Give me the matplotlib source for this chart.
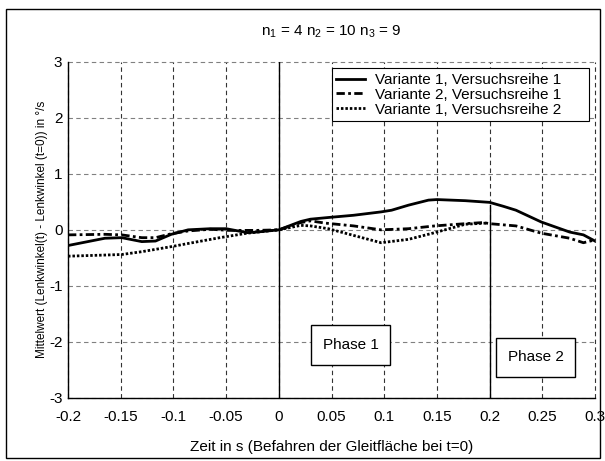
import matplotlib
matplotlib.use("Agg")
import matplotlib.pyplot as plt
from matplotlib.patches import Rectangle

plt.rcParams['font.family'] = ['Liberation Sans', 'DejaVu Sans']
plt.rcParams['mathtext.fontset'] = 'custom'
plt.rcParams['mathtext.rm'] = 'Liberation Sans'
plt.rcParams['mathtext.it'] = 'Liberation Sans'

# Variante 1, Versuchsreihe 1
t1 = [-0.200, -0.165, -0.149, -0.130, -0.117, -0.102, -0.086, -0.065, -0.050, -0.030, -0.021, 0.000,
      0.021, 0.030, 0.047, 0.071, 0.097, 0.107, 0.123, 0.142, 0.150, 0.177, 0.200, 0.213, 0.225,
      0.249, 0.267, 0.276, 0.289, 0.300]
v1 = [-0.28, -0.15, -0.14, -0.21, -0.20, -0.08, 0.00, 0.02, 0.02, -0.05, -0.04, 0.00,
      0.15, 0.19, 0.22, 0.26, 0.32, 0.35, 0.44, 0.53, 0.54, 0.52, 0.49, 0.42, 0.35,
      0.14, 0.02, -0.04, -0.09, -0.20]
# Variante 2, Versuchsreihe 1
t2 = [-0.200, -0.165, -0.149, -0.130, -0.117, -0.102, -0.086, -0.065, -0.047, -0.021, 0.000,
      0.021, 0.030, 0.044, 0.071, 0.097, 0.123, 0.148, 0.177, 0.194, 0.200, 0.225, 0.249,
      0.276, 0.289, 0.300]
v2 = [-0.09, -0.08, -0.09, -0.14, -0.14, -0.07, -0.02, 0.01, -0.01, -0.01, 0.00,
      0.13, 0.16, 0.12, 0.07, 0.00, 0.02, 0.07, 0.11, 0.13, 0.11, 0.07, -0.06,
      -0.15, -0.23, -0.18]
# Variante 1, Versuchsreihe 2
t3 = [-0.200, -0.165, -0.149, -0.130, -0.102, -0.085, -0.056, -0.030, 0.000, 0.021, 0.030,
      0.047, 0.071, 0.097, 0.123, 0.148, 0.177, 0.197]
v3 = [-0.47, -0.45, -0.44, -0.39, -0.30, -0.24, -0.14, -0.06, 0.00, 0.08, 0.07,
      0.02, -0.10, -0.23, -0.17, -0.05, 0.10, 0.12]

labels = ['Variante 1, Versuchsreihe 1', 'Variante 2, Versuchsreihe 1', 'Variante 1, Versuchsreihe 2']
xticks = [-0.2, -0.15, -0.1, -0.05, 0, 0.05, 0.1, 0.15, 0.2, 0.25, 0.3]
xticklabels = ['-0.2', '-0.15', '-0.1', '-0.05', '0', '0.05', '0.1', '0.15', '0.2', '0.25', '0.3']
yticks = [-3, -2, -1, 0, 1, 2, 3]
yticklabels = ['-3', '-2', '-1', '0', '1', '2', '3']

phase_texts = ['Phase 1', 'Phase 2']
phase_boxes = [(0.0305, -2.41, 0.075, 0.71), (0.206, -2.62, 0.075, 0.69)]
phase_lines = [(0.0, -3, 3), (0.2, -3, 0.45)]

fig = plt.figure(figsize=(6.05, 4.61), dpi=100)
ax = fig.add_axes([0.1124, 0.1367, 0.8711, 0.7295])
ax.set_xlim(-0.2, 0.3)
ax.set_ylim(-3, 3)

for xv in xticks:
    ax.axvline(xv, color='0.2', lw=0.8, ls=(0, (4, 3)), zorder=1, clip_on=False)
for yv in yticks:
    ax.axhline(yv, color='0.5', lw=0.8, ls=(0, (4, 3)), zorder=1, clip_on=False)

for xv, y0, y1 in phase_lines:
    ax.plot([xv, xv], [y0, y1], color='black', lw=1.0, zorder=2)

ax.plot(t1, v1, color='black', lw=2.0, ls='-', label=labels[0], zorder=3)
ax.plot(t2, v2, color='black', lw=2.0, ls=(0, (3, 1.2, 1, 1.2)), label=labels[1], zorder=3)
ax.plot(t3, v3, color='black', lw=2.0, ls=(0, (0.9, 0.7)), label=labels[2], zorder=3)

for txt, (bx, by, bw, bh) in zip(phase_texts, phase_boxes):
    ax.add_patch(Rectangle((bx, by), bw, bh, facecolor='white', edgecolor='black', lw=1.0, zorder=4))
    ax.text(bx + bw / 2, by + bh / 2, txt, ha='center', va='center', fontsize=11, zorder=5)

for s in ['top', 'right']:
    ax.spines[s].set_visible(False)
for s in ['left', 'bottom']:
    ax.spines[s].set_linewidth(1.0)
    ax.spines[s].set_zorder(2.5)

ax.set_xticks(xticks)
ax.set_xticklabels(xticklabels, fontsize=11)
ax.set_yticks(yticks)
ax.set_yticklabels(yticklabels, fontsize=11)
ax.tick_params(axis='x', direction='in', length=0, pad=9)
ax.tick_params(axis='y', direction='in', length=0, pad=4)

ax.set_xlabel('Zeit in s (Befahren der Gleitfläche bei t=0)', fontsize=11, labelpad=11)
ax.set_ylabel('Mittelwert (Lenkwinkel(t) - Lenkwinkel (t=0)) in °/s', fontsize=8.5, labelpad=1)
ax.set_title(r'n$_1$ = 4 n$_2$ = 10 n$_3$ = 9', fontsize=11, pad=19)

leg = ax.legend(loc='upper left', bbox_to_anchor=(0.5004, 0.5, 0.4888, 0.48), mode='expand',
                fontsize=11, frameon=True, fancybox=False, edgecolor='black', framealpha=1,
                handlelength=1.85, handletextpad=0.7, borderpad=0.3, labelspacing=0.05,
                borderaxespad=0)
leg.get_frame().set_linewidth(0.8)

fig.add_artist(Rectangle((5.5 / 605, 3 / 461), 594 / 605, 448.5 / 461, transform=fig.transFigure,
                         fill=False, edgecolor='black', lw=1.0))

fig.savefig('out.png', dpi=100)
